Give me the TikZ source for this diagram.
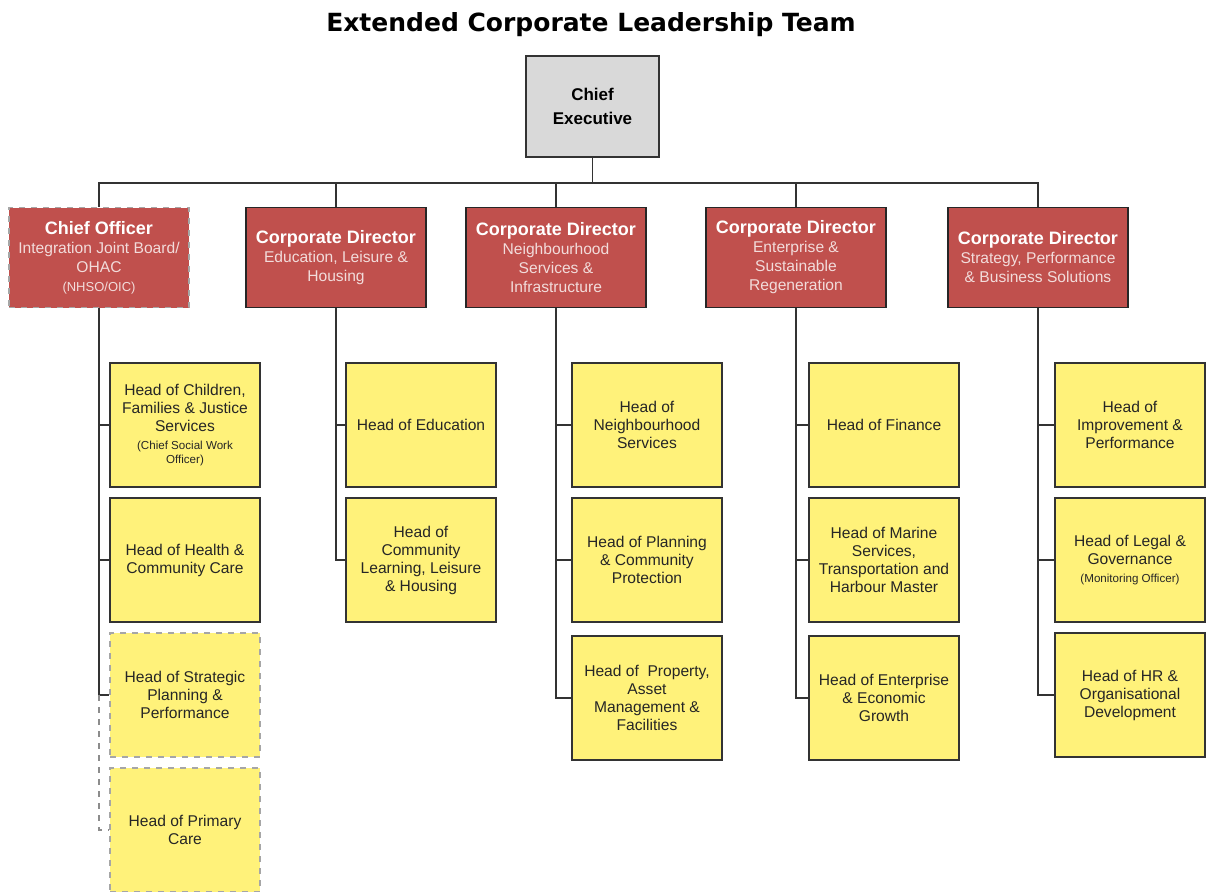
\documentclass[tikz,border=0pt]{standalone}
\usepackage{fontspec}
\setmainfont{Liberation Sans}
\newfontfamily\titlefont{DejaVu Sans}

\definecolor{dirred}{HTML}{C0504D}
\definecolor{headyellow}{HTML}{FFF27A}
\definecolor{cegray}{HTML}{D9D9D9}
\definecolor{subpink}{HTML}{F2DCDB}

\newcommand{\dirhead}[1]{{\color{white}\bfseries\fontsize{9}{10}\selectfont #1}}
\newcommand{\smallnote}[1]{{\fontsize{5.8}{7}\selectfont #1}}

\tikzset{
    cebox/.style={draw=black!80, line width=0.8pt, fill=cegray, minimum width=66.5pt, minimum height=50.5pt,
        align=center, font=\bfseries\fontsize{8.5}{12}\selectfont},
    dirbox/.style={draw=black!85, line width=0.8pt, fill=dirred, minimum width=90pt, minimum height=50pt,
        align=center, text=subpink, inner sep=1pt, font=\fontsize{7.8}{9.5}\selectfont},
    headbox/.style={draw=black!80, line width=0.8pt, fill=headyellow, minimum width=75pt, minimum height=62pt,
        align=center, text=black!85, inner sep=1pt, font=\fontsize{7.8}{9}\selectfont},
    vacant/.style={draw=black!35, dashed},
    link/.style={draw=black!80, line width=0.8pt},
}

\begin{document}
\begin{tikzpicture}[x=0.5pt, y=-0.5pt]
    \useasboundingbox (0,0) rectangle (1206,891);

    \node[font=\titlefont\bfseries\fontsize{12.5}{14}\selectfont] (title) at (591,25) {Extended Corporate Leadership Team};

    \node[cebox] (ceo) at (592.5,106.5) {Chief\\Executive};

    % directors
    \node[dirbox, vacant] (chiefofficer) at (99,257.5) {\dirhead{Chief Officer}\\Integration Joint Board/\\OHAC\\{\fontsize{6.5}{9.5}\selectfont (NHSO/OIC)}};
    \node[dirbox] (edu) at (336,257.5) {\dirhead{Corporate Director}\\Education, Leisure \&\\Housing};
    \node[dirbox] (nbh) at (556,257.5) {\dirhead{Corporate Director}\\Neighbourhood\\Services \&\\Infrastructure};
    \node[dirbox] (ent) at (796,257.5) {\dirhead{Corporate Director}\\Enterprise \&\\Sustainable\\Regeneration};
    \node[dirbox] (strat) at (1038,257.5) {\dirhead{Corporate Director}\\Strategy, Performance\\\& Business Solutions};

    % heads of service
    \node[headbox] (children) at (185,425) {Head of Children,\\Families \& Justice\\Services\\\smallnote{(Chief Social Work}\\[-2pt]\smallnote{Officer)}};
    \node[headbox] (health) at (185,560) {Head of Health \&\\Community Care};
    \node[headbox, vacant] (planperf) at (185,695) {Head of Strategic\\Planning \&\\Performance};
    \node[headbox, vacant] (primary) at (185,830) {Head of Primary\\Care};

    \node[headbox] (education) at (421,425) {Head of Education};
    \node[headbox] (commlearn) at (421,560) {Head of\\Community\\Learning, Leisure\\\& Housing};

    \node[headbox] (nbhserv) at (647,425) {Head of\\Neighbourhood\\Services};
    \node[headbox] (planning) at (647,560) {Head of Planning\\\& Community\\Protection};
    \node[headbox] (property) at (647,698) {Head of~ Property,\\Asset\\Management \&\\Facilities};

    \node[headbox] (finance) at (884,425) {Head of Finance};
    \node[headbox] (marine) at (884,560) {Head of Marine\\Services,\\Transportation and\\Harbour Master};
    \node[headbox] (enterprise) at (884,698) {Head of Enterprise\\\& Economic\\Growth};

    \node[headbox] (improve) at (1130,425) {Head of\\Improvement \&\\Performance};
    \node[headbox] (legal) at (1130,560) {Head of Legal \&\\Governance\\\smallnote{(Monitoring Officer)}};
    \node[headbox] (hr) at (1130,695) {Head of HR \&\\Organisational\\Development};

    % connectors
    \draw[link] (ceo.south) -- ++(0,25) coordinate (hub);
    \foreach \d in {chiefofficer, edu, nbh, ent, strat}
        \draw[link] (hub) -| (\d.north);

    \draw[link] (chiefofficer.south) |- (children.west);
    \draw[link] (chiefofficer.south) |- (health.west);
    \draw[link] (chiefofficer.south) |- (planperf.west);
    \draw[link, draw=black!45, dashed] (planperf.west -| chiefofficer.south) |- (primary.west);

    \draw[link] (edu.south) |- (education.west);
    \draw[link] (edu.south) |- (commlearn.west);

    \draw[link] (nbh.south) |- (nbhserv.west);
    \draw[link] (nbh.south) |- (planning.west);
    \draw[link] (nbh.south) |- (property.west);

    \draw[link] (ent.south) |- (finance.west);
    \draw[link] (ent.south) |- (marine.west);
    \draw[link] (ent.south) |- (enterprise.west);

    \draw[link] (strat.south) |- (improve.west);
    \draw[link] (strat.south) |- (legal.west);
    \draw[link] (strat.south) |- (hr.west);
\end{tikzpicture}
\end{document}
